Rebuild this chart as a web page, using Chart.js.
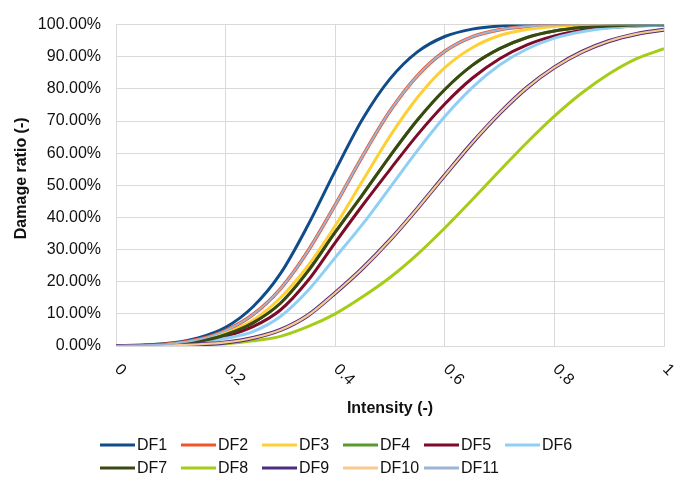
<!DOCTYPE html>
<html>
<head>
<meta charset="utf-8">
<script src="https://cdn.jsdelivr.net/npm/chart.js@4/dist/chart.umd.min.js"></script>
<style>
  body { margin: 0; background: #fff; }
</style>
</head>
<body>
<canvas id="myChart" width="682" height="481"></canvas>
<script>
// intensity steps (x) and damage ratios
const intensity = [0, 0.05, 0.1, 0.15, 0.2, 0.25, 0.3, 0.35, 0.4, 0.45, 0.5,
  0.55, 0.6, 0.65, 0.7, 0.75, 0.8, 0.85, 0.9, 0.95, 1];

const df1 = [0.0007, 0.0026, 0.009, 0.025, 0.058, 0.122, 0.225, 0.375, 0.545, 0.706, 0.831,
  0.915, 0.963, 0.986, 0.996, 0.999, 1, 1, 1, 1, 1];
const df2 = [0.0006, 0.002, 0.007, 0.02, 0.048, 0.098, 0.178, 0.295, 0.439, 0.591, 0.731,
  0.841, 0.917, 0.962, 0.984, 0.994, 0.998, 0.9995, 1, 1, 1];
const df3 = [0.0005, 0.0017, 0.0055, 0.0155, 0.04, 0.08, 0.15, 0.249, 0.374, 0.514, 0.653,
  0.773, 0.866, 0.928, 0.966, 0.985, 0.9944, 0.998, 0.9994, 1, 1];
const df4 = [0.0004, 0.0014, 0.0047, 0.014, 0.035, 0.072, 0.133, 0.232, 0.354, 0.471, 0.591,
  0.703, 0.798, 0.873, 0.925, 0.96, 0.98, 0.9907, 0.996, 0.9985, 0.9994];
const df5 = [0.0003, 0.0011, 0.0039, 0.012, 0.03, 0.06, 0.112, 0.203, 0.322, 0.438, 0.549,
  0.657, 0.753, 0.833, 0.894, 0.937, 0.965, 0.982, 0.991, 0.996, 0.9983];
const df6 = [0.0002, 0.0009, 0.0032, 0.01, 0.024, 0.045, 0.092, 0.172, 0.275, 0.379, 0.493,
  0.608, 0.714, 0.804, 0.874, 0.924, 0.958, 0.978, 0.9895, 0.9953, 0.998];
const df7 = [0.0004, 0.0014, 0.0047, 0.014, 0.035, 0.072, 0.133, 0.232, 0.354, 0.471, 0.591,
  0.703, 0.798, 0.873, 0.925, 0.96, 0.98, 0.9907, 0.996, 0.9985, 0.9994];
const df8 = [0, 0.0002, 0.001, 0.003, 0.007, 0.016, 0.03, 0.06, 0.1, 0.153, 0.213,
  0.285, 0.367, 0.455, 0.545, 0.633, 0.715, 0.787, 0.847, 0.894, 0.925];
const df9 = [0, 0.0005, 0.002, 0.005, 0.011, 0.025, 0.05, 0.095, 0.165, 0.242, 0.33,
  0.428, 0.531, 0.632, 0.724, 0.804, 0.867, 0.915, 0.949, 0.971, 0.984];
const df10 = [0, 0.0005, 0.002, 0.005, 0.011, 0.025, 0.05, 0.095, 0.165, 0.242, 0.33,
  0.428, 0.531, 0.632, 0.724, 0.804, 0.867, 0.915, 0.949, 0.971, 0.984];
const df11 = [0.0006, 0.002, 0.007, 0.02, 0.048, 0.098, 0.178, 0.295, 0.439, 0.591, 0.731,
  0.841, 0.917, 0.962, 0.984, 0.994, 0.998, 0.9995, 1, 1, 1];

const seriesNames = ['DF1', 'DF2', 'DF3', 'DF4', 'DF5', 'DF6', 'DF7', 'DF8', 'DF9', 'DF10', 'DF11'];
const seriesValues = [df1, df2, df3, df4, df5, df6, df7, df8, df9, df10, df11];
const seriesColors = ['#0f4c89', '#ef5528', '#ffd036', '#5a9a2c', '#7d0b29', '#8fcff6',
  '#3a4913', '#a5cd18', '#4e2c80', '#f8ca90', '#9bb5d6'];
const seriesWidths = [3, 3.5, 3, 3, 3, 3, 3, 3, 4, 2.2, 2];

const xTickLabels = [0, 0.2, 0.4, 0.6, 0.8, 1];
const yTickValues = [0, 0.1, 0.2, 0.3, 0.4, 0.5, 0.6, 0.7, 0.8, 0.9, 1];

const FONT = '"Liberation Sans", Arial, sans-serif';
Chart.defaults.font.family = FONT;
Chart.defaults.color = '#111';

// x tick labels slanted downwards, y title sitting a bit above centre
const axisText = {
  id: 'axisText',
  afterDraw(chart) {
    const sc = chart.scales.x;
    const ctx = chart.ctx;
    const area = chart.chartArea;
    ctx.save();
    ctx.font = '16px ' + FONT;
    ctx.fillStyle = '#111';
    ctx.textAlign = 'left';
    ctx.textBaseline = 'middle';
    xTickLabels.forEach((v) => {
      const px = sc.getPixelForValue(v);
      ctx.save();
      ctx.translate(px + 1, 367);
      ctx.rotate(Math.PI / 4);
      ctx.fillText(String(v), 0, 0);
      ctx.restore();
    });
    ctx.font = 'bold 16px ' + FONT;
    ctx.textAlign = 'center';
    ctx.translate(22, (area.top + area.bottom) / 2 - 7);
    ctx.rotate(-Math.PI / 2);
    ctx.fillText('Damage ratio (-)', 0, 0);
    ctx.restore();
  },
};

// legend laid out in fixed columns (6 per row)
const gridLegend = {
  id: 'gridLegend',
  afterDraw(chart) {
    const ctx = chart.ctx;
    ctx.save();
    ctx.font = '16px ' + FONT;
    ctx.textBaseline = 'middle';
    ctx.textAlign = 'left';
    chart.data.datasets.forEach((ds, i) => {
      const x = 100 + (i % 6) * 81;
      const y = 445 + Math.floor(i / 6) * 23;
      ctx.strokeStyle = ds.borderColor;
      ctx.lineWidth = 3;
      ctx.beginPath();
      ctx.moveTo(x, y);
      ctx.lineTo(x + 35, y);
      ctx.stroke();
      ctx.fillStyle = '#111';
      ctx.fillText(ds.label, x + 37, y + 1);
    });
    ctx.restore();
  },
};

const ctx = document.getElementById('myChart');

new Chart(ctx, {
  type: 'line',
  data: {
    datasets: seriesNames.map((name, i) => ({
      label: name,
      data: intensity.map((x, j) => ({ x: x, y: seriesValues[i][j] })),
      borderColor: seriesColors[i],
      backgroundColor: seriesColors[i],
      borderWidth: seriesWidths[i],
      pointRadius: 0,
      cubicInterpolationMode: 'monotone',
      order: seriesNames.length - i,
    })),
  },
  options: {
    responsive: false,
    animation: false,
    layout: { padding: { left: 0, right: 18, top: 20, bottom: 35 } },
    plugins: {
      legend: { display: false },
      tooltip: { enabled: false },
    },
    scales: {
      x: {
        type: 'linear',
        min: 0,
        max: 1,
        afterBuildTicks: (s) => { s.ticks = xTickLabels.map((v) => ({ value: v })); },
        afterFit: (s) => { s.height = 100; },
        ticks: { display: false },
        grid: { color: '#d9d9d9', drawTicks: false },
        border: { color: '#d9d9d9' },
        title: {
          display: true,
          text: 'Intensity (-)',
          font: { size: 16, weight: 'bold' },
          color: '#111',
          padding: { top: 0, bottom: 28 },
        },
      },
      y: {
        min: 0,
        max: 1,
        afterBuildTicks: (s) => { s.ticks = yTickValues.map((v) => ({ value: v })); },
        afterFit: (s) => { s.width = 116; },
        ticks: {
          padding: 15,
          font: { size: 16 },
          color: '#111',
          callback: (v) => (v * 100).toFixed(2) + '%',
        },
        grid: { color: '#d9d9d9', drawTicks: false },
        border: { color: '#d9d9d9' },
      },
    },
  },
  plugins: [axisText, gridLegend],
});
</script>
</body>
</html>
